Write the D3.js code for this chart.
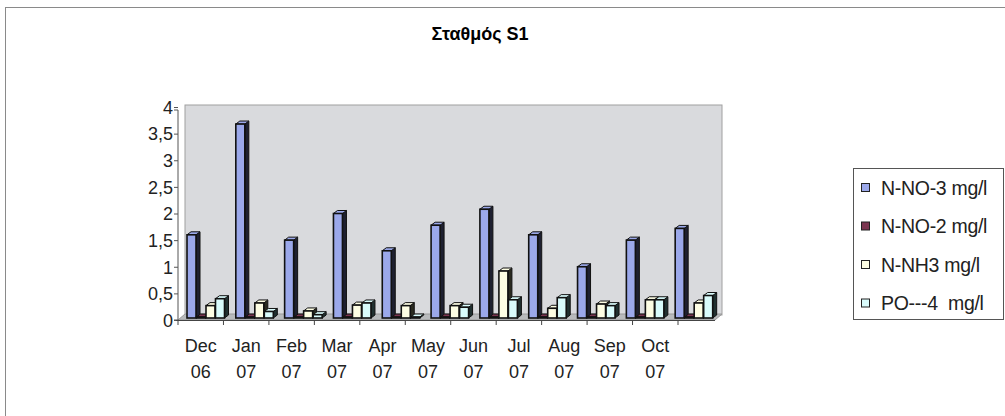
<!DOCTYPE html>
<html>
<head>
<meta charset="utf-8">
<script src="https://cdn.jsdelivr.net/npm/d3@7/dist/d3.min.js"></script>
<style>
  body { margin: 0; background: #fff; }
  svg { display: block; font-family: "Liberation Sans", Arial, sans-serif; }
</style>
</head>
<body>
<div id="chart"></div>
<script>
// data
var months = ["Dec", "Jan", "Feb", "Mar", "Apr", "May", "Jun", "Jul", "Aug", "Sep", "Oct"];
var years = ["06", "07", "07", "07", "07", "07", "07", "07", "07", "07", "07"];
var seriesNames = ["N-NO-3 mg/l", "N-NO-2 mg/l", "N-NH3 mg/l", "PO---4  mg/l"];
var no3 = [1.6, 3.68, 1.5, 2.0, 1.3, 1.78, 2.08, 1.6, 1.0, 1.5, 1.72];
var no2 = [0.02, 0.02, 0.02, 0.02, 0.02, 0.02, 0.02, 0.02, 0.02, 0.02, 0.02];
var nh3 = [0.27, 0.32, 0.17, 0.28, 0.27, 0.27, 0.92, 0.22, 0.3, 0.38, 0.32];
var po4 = [0.4, 0.16, 0.1, 0.32, 0.02, 0.24, 0.38, 0.42, 0.27, 0.38, 0.46];
var yTicks = [0, 0.5, 1, 1.5, 2, 2.5, 3, 3.5, 4];

var fronts = ["#9ba8ea", "#7b3550", "#fdfde3", "#d9fbfb"];
var sides = ["#1e2030", "#2a1018", "#2a2a20", "#203030"];

var W = 1005, H = 416;
var depthX = 4, depthY = 3;

var svg = d3.select("#chart").append("svg")
    .attr("width", W).attr("height", H);

// outer frame
svg.append("rect").attr("x", 5.5).attr("y", 7.5)
    .attr("width", 1010).attr("height", 420)
    .attr("fill", "#fff").attr("stroke", "#8a8a8a");

svg.append("text").attr("x", 480).attr("y", 40)
    .attr("text-anchor", "middle")
    .style("font-size", "18px").style("font-weight", "bold")
    .text("Σταθμός S1");

var y = d3.scaleLinear().domain([0, 4]).range([320, 107]);
var xLabel = d3.scaleBand().domain(months).range([178, 678]);
var xBar = d3.scaleBand().domain(months).range([185, 722]);
var xSeries = d3.scaleBand().domain(d3.range(4)).range([2, 40]);

// back wall + floor
svg.append("rect").attr("x", 185).attr("y", 105)
    .attr("width", 537).attr("height", 210)
    .attr("fill", "#d9dadd").attr("stroke", "#a0a0a0");
svg.append("polygon")
    .attr("points", "178,320 715,320 722,314 185,314")
    .attr("fill", "#b8babc").attr("stroke", "#9a9a9a");

// bars
var allSeries = [no3, no2, nh3, po4];
allSeries.forEach(function(vals, s) {
  var g = svg.append("g");
  vals.forEach(function(v, i) {
    var x0 = xBar(months[i]) + xSeries(s);
    var w = 9;
    var yb = 318, yt = y(v);
    if (yt > yb - 1) yt = yb - 1;
    // side
    g.append("polygon")
      .attr("points", [[x0 + w, yb], [x0 + w + depthX, yb - depthY], [x0 + w + depthX, yt - depthY], [x0 + w, yt]].join(" "))
      .attr("fill", sides[s]).attr("stroke", "#111").attr("stroke-width", 1);
    // top
    g.append("polygon")
      .attr("points", [[x0, yt], [x0 + depthX, yt - depthY], [x0 + w + depthX, yt - depthY], [x0 + w, yt]].join(" "))
      .attr("fill", fronts[s]).attr("stroke", "#111").attr("stroke-width", 1);
    // front
    g.append("rect").attr("x", x0).attr("y", yt)
      .attr("width", w).attr("height", yb - yt)
      .attr("fill", fronts[s]).attr("stroke", "#111").attr("stroke-width", 1.6);
  });
});

// y axis
var yAxis = d3.axisLeft(y).tickValues(yTicks).tickSize(4)
    .tickFormat(function(d) { return String(d).replace(".", ","); });
var ga = svg.append("g").attr("transform", "translate(178,0)").call(yAxis);
ga.attr("font-size", null).attr("font-family", null);
ga.select(".domain").attr("stroke", "#555").attr("d", "M-4,110H0V320H-4");
ga.selectAll(".tick line").attr("stroke", "#555");
ga.selectAll(".tick text").attr("x", -5).attr("dy", "0.35em")
    .style("font-size", "18px").attr("fill", "#222");

// x axis
var gx = svg.append("g").attr("transform", "translate(0,320)");
gx.append("line").attr("x1", 176).attr("x2", 715).attr("y1", 0.5).attr("y2", 0.5).attr("stroke", "#444");
var edges = months.map(function(m) { return xLabel(m); }).concat([678]);
gx.selectAll(".tk").data(edges).enter().append("line")
    .attr("x1", function(d) { return d; }).attr("x2", function(d) { return d; })
    .attr("y1", 0).attr("y2", 5).attr("stroke", "#444");
gx.selectAll(".m").data(months).enter().append("text")
    .attr("x", function(d) { return xLabel(d) + xLabel.bandwidth() / 2; })
    .attr("y", 32).attr("text-anchor", "middle")
    .style("font-size", "18px").attr("fill", "#222")
    .text(function(d) { return d; });
gx.selectAll(".yr").data(years).enter().append("text")
    .attr("x", function(d, i) { return xLabel(months[i]) + xLabel.bandwidth() / 2; })
    .attr("y", 58).attr("text-anchor", "middle")
    .style("font-size", "18px").attr("fill", "#222")
    .text(function(d) { return d; });

// legend
var lg = svg.append("g");
lg.append("rect").attr("x", 853.5).attr("y", 168.5)
    .attr("width", 150).attr("height", 151)
    .attr("fill", "#fff").attr("stroke", "#555");
var leg = lg.selectAll(".it").data(seriesNames).enter().append("g")
    .attr("transform", function(d, i) { return "translate(861," + (188 + i * 38.5) + ")"; });
leg.append("rect").attr("x", 0.5).attr("y", -4.5).attr("width", 8).attr("height", 8)
    .attr("fill", function(d, i) { return fronts[i]; }).attr("stroke", "#222");
leg.append("text").attr("x", 20).attr("dy", "0.35em")
    .style("font-size", "19.5px").style("letter-spacing", "-0.3px").attr("fill", "#222")
    .style("white-space", "pre")
    .text(function(d) { return d; });
</script>
</body>
</html>
